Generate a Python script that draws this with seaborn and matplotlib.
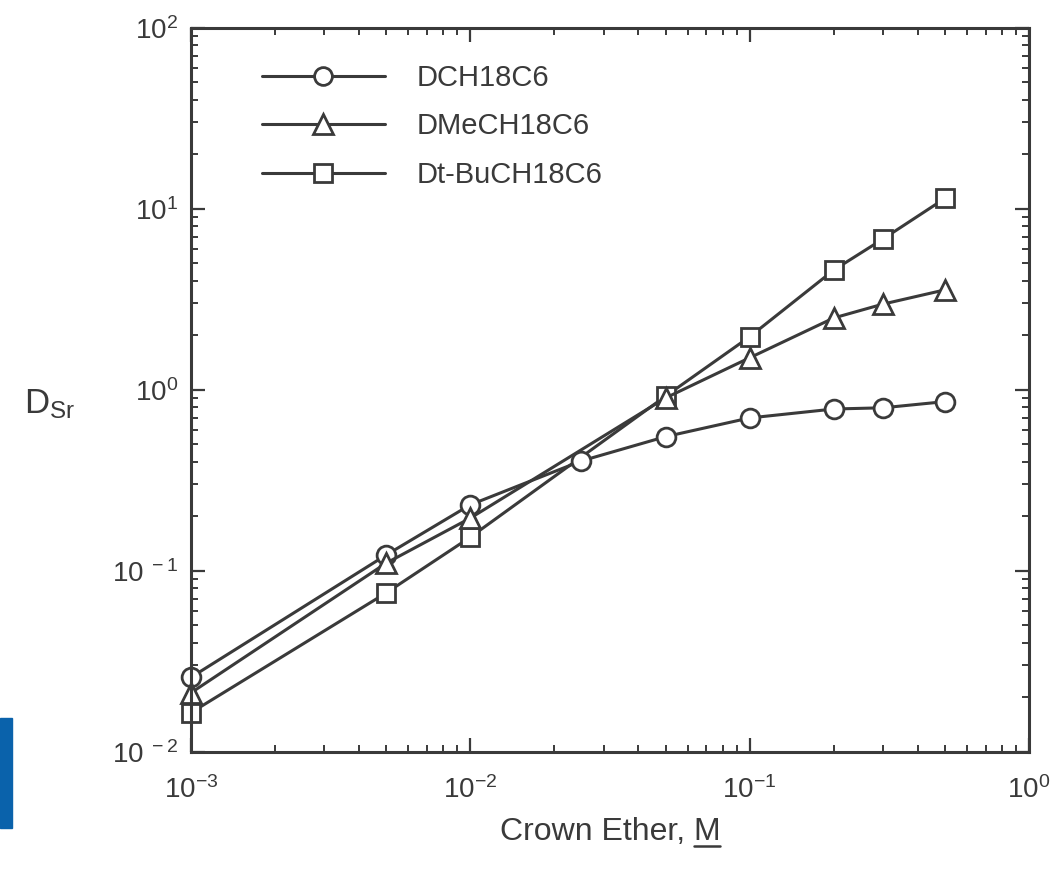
import matplotlib
matplotlib.use('Agg')
import matplotlib.pyplot as plt
from matplotlib.lines import Line2D
from matplotlib.patches import Rectangle
import seaborn as sns
import pandas as pd

# data (log-log)
conc_dch = [0.001, 0.005, 0.01, 0.025, 0.05, 0.1, 0.2, 0.3, 0.5]
d_dch = [0.0257, 0.122, 0.231, 0.404, 0.55, 0.698, 0.782, 0.794, 0.859]

conc_dme = [0.001, 0.005, 0.01, 0.05, 0.1, 0.2, 0.3, 0.5]
d_dme = [0.0211, 0.110, 0.195, 0.90, 1.50, 2.49, 2.97, 3.56]

conc_dtbu = [0.001, 0.005, 0.01, 0.05, 0.1, 0.2, 0.3, 0.5]
d_dtbu = [0.0164, 0.0753, 0.153, 0.92, 1.96, 4.58, 6.8, 11.4]

names = ['DCH18C6', 'DMeCH18C6', 'Dt-BuCH18C6']
markers = {'DCH18C6': 'o', 'DMeCH18C6': '^', 'Dt-BuCH18C6': 's'}
msizes = {'DCH18C6': 13.5, 'DMeCH18C6': 15, 'Dt-BuCH18C6': 13}

df = pd.concat([
    pd.DataFrame({'conc': conc_dch, 'D': d_dch, 'ether': 'DCH18C6'}),
    pd.DataFrame({'conc': conc_dme, 'D': d_dme, 'ether': 'DMeCH18C6'}),
    pd.DataFrame({'conc': conc_dtbu, 'D': d_dtbu, 'ether': 'Dt-BuCH18C6'}),
])

sns.set_style('ticks')
plt.rcParams['font.family'] = ['Liberation Sans', 'DejaVu Sans']
plt.rcParams['mathtext.fontset'] = 'custom'
plt.rcParams['mathtext.rm'] = 'Liberation Sans'
plt.rcParams['mathtext.it'] = 'Liberation Sans:italic'
plt.rcParams['mathtext.default'] = 'regular'

ink = '#3a3a3a'
fig = plt.figure(figsize=(10.6, 8.74), dpi=100)
ax = fig.add_axes([0.180, 0.140, 0.7908, 0.8283])

# draw order: squares, circles, triangles on top
for name in ['Dt-BuCH18C6', 'DCH18C6', 'DMeCH18C6']:
    sub = df[df['ether'] == name]
    sns.lineplot(data=sub, x='conc', y='D', ax=ax, color=ink, lw=2.2,
                 marker=markers[name], markersize=msizes[name],
                 markerfacecolor='white', markeredgecolor=ink,
                 markeredgewidth=2.0, legend=False, clip_on=False)

ax.set_xscale('log')
ax.set_yscale('log')
ax.set_xlim(1e-3, 1e0)
ax.set_ylim(1e-2, 1e2)

ax.set_xticks([1e-3, 1e-2, 1e-1, 1e0])
ax.set_xticklabels([r'$10^{-3}$', r'$10^{-2}$', r'$10^{-1}$', r'$10^{0}$'])
ax.set_yticks([1e-2, 1e-1, 1e0, 1e1, 1e2])
ax.set_yticklabels([r'$10^{\ -2}$', r'$10^{\ -1}$', r'$10^{0}$', r'$10^{1}$', r'$10^{2}$'])

for s in ax.spines.values():
    s.set_linewidth(2.2)
    s.set_color(ink)
ax.tick_params(which='both', direction='in', top=True, right=True, color=ink)
ax.tick_params(which='major', length=10, width=1.6, labelsize=20,
               labelcolor=ink)
ax.tick_params(axis='x', which='major', pad=18)
ax.tick_params(axis='y', which='major', pad=9)
ax.tick_params(which='minor', length=5, width=1.4)

ax.set_xlabel('Crown Ether, M', fontsize=23, color=ink, labelpad=9)
ax.set_ylabel('')
fig.text(0.023, 0.538, r'D$_{Sr}$', fontsize=25, color=ink, va='center')

handles = [Line2D([], [], color=ink, lw=2.2, marker=markers[n],
                  markersize=msizes[n] * 0.95, markerfacecolor='white',
                  markeredgecolor=ink, markeredgewidth=2.0) for n in names]
ax.legend(handles, names, loc='upper left', bbox_to_anchor=(0.085, 0.95),
          frameon=False, fontsize=21, handlelength=4.2, handletextpad=1.1,
          labelspacing=0.7, borderpad=0, borderaxespad=0, labelcolor=ink)

# blue tab at the left edge of the page
fig.patches.append(Rectangle((0, 1 - 828 / 874), 12 / 1060, 110 / 874,
                             transform=fig.transFigure, color='#0a62ab',
                             zorder=0))

# underline the unit "M" in the x label
fig.canvas.draw()
r = fig.canvas.get_renderer()
lab = ax.xaxis.label.get_window_extent(r)
tmp = fig.text(0, 0, 'M', fontsize=23)
mw = tmp.get_window_extent(r).width
tmp.remove()
W, H = fig.bbox.width, fig.bbox.height
uy = (lab.y0 + 1) / H
fig.add_artist(Line2D([(lab.x1 - mw) / W, lab.x1 / W], [uy, uy],
                      transform=fig.transFigure, color=ink, lw=1.8))

fig.savefig('out.png', dpi=100)
